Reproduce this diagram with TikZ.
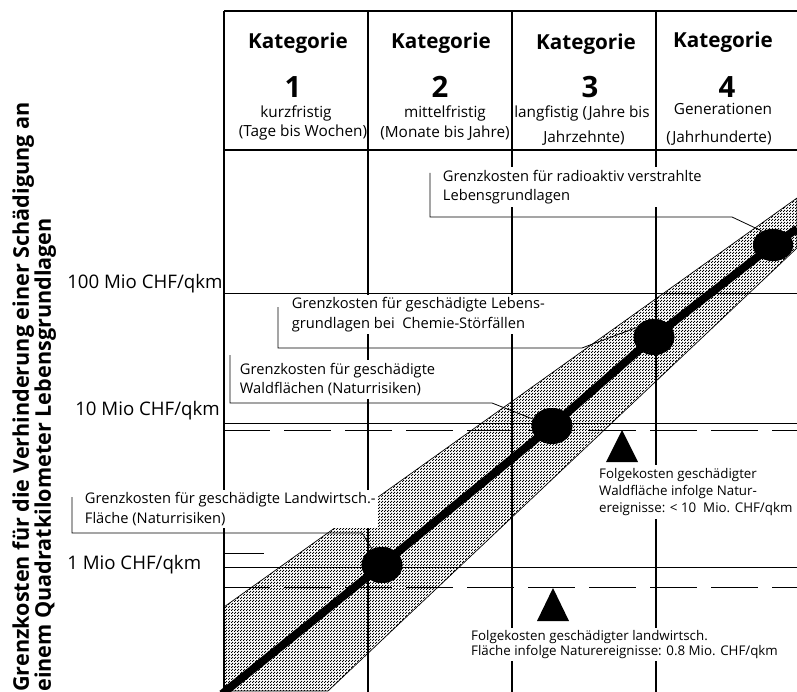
\documentclass[tikz,border=0pt]{standalone}
\usepackage{fontspec}
\setmainfont{Open Sans}
\usetikzlibrary{shapes.geometric,patterns}

% fine checkerboard stipple used for the cost band
\pgfdeclarepatternformonly{stipple}{\pgfqpoint{0pt}{0pt}}{\pgfqpoint{2.25pt}{2.25pt}}{\pgfqpoint{2.25pt}{2.25pt}}{%
  \pgfpathrectangle{\pgfqpoint{0pt}{0pt}}{\pgfqpoint{1pt}{1pt}}%
  \pgfpathrectangle{\pgfqpoint{1.125pt}{1.125pt}}{\pgfqpoint{1pt}{1pt}}%
  \pgfusepath{fill}}

\begin{document}
\begin{tikzpicture}[x=0.75pt,y=-0.75pt,
  gridv/.style={line width=0.9pt},
  gridh/.style={line width=0.6pt},
  dashline/.style={line width=0.6pt,dash pattern=on 35.25pt off 10.5pt},
  band/.style={draw,line width=0.5pt,preaction={fill=white},pattern=stipple},
  dot/.style={ellipse,fill=black,inner sep=0pt,minimum width=30.5pt,minimum height=27pt},
  mainline/.style={line width=6pt},
  leader/.style={line width=0.6pt},
  callout/.style={fill=white,align=left,anchor=west,inner sep=2pt,
    font=\fontsize{11}{14.5}\selectfont},
  note/.style={fill=white,align=left,anchor=west,inner sep=2pt},
  cathead/.style={font=\fontsize{15.5}{18}\selectfont\bfseries,inner sep=0pt},
  catnum/.style={font=\fontsize{22}{24}\selectfont\bfseries,inner sep=0pt},
  catsub/.style={font=\fontsize{11.5}{13}\selectfont,inner sep=0pt},
  ticklab/.style={font=\fontsize{14}{16}\selectfont,anchor=west,inner sep=0pt},
]
\useasboundingbox (0,0) rectangle (797,692);

% uncertainty band
\path[band] (224,607) -- (797,198) -- (797,248) -- (328,691) -- (224,691) -- cycle;

% frame of the category table
\draw[gridh,line width=1pt] (224,11) -- (797,11);
\draw[gridh,line width=1pt] (224,150) -- (797,150);
\foreach \xc in {224,368,512,656}
  \draw[gridv] (\xc,11) -- (\xc,692);

% cost levels
\draw[gridh] (224,293) -- (797,293);
\draw[gridh] (224,423) -- (797,423);
\draw[dashline] (223,430) -- (797,430);
\draw[gridh] (224,553) -- (264,553);
\draw[gridh] (224,567) -- (797,567);
\draw[dashline] (223,587) -- (797,587);

% category headers
\node[cathead] (k1) at (298,43) {Kategorie};
\node[cathead] (k2) at (441,43) {Kategorie};
\node[cathead] (k3) at (586,44) {Kategorie};
\node[cathead] (k4) at (723,42) {Kategorie};
\node[catnum] (n1) at (293,87) {1};
\node[catnum] (n2) at (440,87) {2};
\node[catnum] (n3) at (590,87) {3};
\node[catnum] (n4) at (727,87) {4};
\node[catsub] (s1a) at (296,113) {kurzfristig};
\node[catsub] (s1b) at (303,133) {(Tage bis Wochen)};
\node[catsub] (s2a) at (445,113) {mittelfristig};
\node[catsub] (s2b) at (445,133) {(Monate bis Jahre)};
\node[catsub] (s3a) at (582,113) {langfistig (Jahre bis};
\node[catsub] (s3b) at (584,138) {Jahrzehnte)};
\node[catsub] (s4a) at (723,109) {Generationen};
\node[catsub] (s4b) at (719,138) {(Jahrhunderte)};

% axis title and cost levels
\node[rotate=90,anchor=north west,align=left,inner sep=0pt,
  font=\fontsize{16.2}{16.5}\selectfont\bfseries] (ytitle) at (12,692)
  {Grenzkosten für die Verhinderung einer Schädigung an\\einem Quadratkilometer Lebensgrundlagen};
\node[ticklab] (t100) at (67,284) {100 Mio CHF/qkm};
\node[ticklab] (t10) at (75,411) {10 Mio CHF/qkm};
\node[ticklab] (t1) at (67,565) {1 Mio CHF/qkm};

% callouts
\node[callout] (lr) at (440,187) {Grenzkosten für radioaktiv verstrahlte\\Lebensgrundlagen};
\node[callout] (lc) at (289,314.5) {Grenzkosten für geschädigte Lebens-\\grundlagen bei\ \ Chemie-Störfällen};
\node[callout] (lw) at (237,379.5) {Grenzkosten für geschädigte\\Waldflächen (Naturrisiken)};
\node[callout] (ll) at (82,509) {Grenzkosten für geschädigte Landwirtsch.-\\Fläche (Naturrisiken)};

% marginal-cost points on the main line
\coordinate (mstart) at (222,694);
\node[dot] (c1) at (382,565) {};
\node[dot] (c2) at (552,426) {};
\node[dot] (c3) at (654,337) {};
\node[dot,minimum width=30pt,minimum height=24pt] (c4) at (773,245) {};
\coordinate (mend) at (797,229);

% leader lines
\coordinate (rt) at (430,173); \coordinate (rb) at (430,217); \coordinate (re) at (732,217);
\coordinate (ct) at (278,307); \coordinate (cb) at (278,348); \coordinate (ce) at (582,348);
\coordinate (wt) at (230,355); \coordinate (wb) at (230,403); \coordinate (we) at (492,403);
\coordinate (lt) at (72,497);  \coordinate (lb) at (72,533);  \coordinate (le) at (362,533);
\draw[leader] (rt) -- (rb) -- (re) -- (c4.128);
\draw[leader] (ct) -- (cb) -- (ce) -- (c3.152);
\draw[leader] (wt) -- (wb) -- (we) -- (c2.160);
\draw[leader] (lt) -- (lb) -- (le) -- (c1.122);

\draw[mainline] (mstart) -- (c1.center) -- (c2.center) -- (c3.center) -- (c4.center) -- (mend);
\node[dot] at (c1) {};
\node[dot] at (c2) {};
\node[dot] at (c3) {};
\node[dot,minimum width=30pt,minimum height=24pt] at (c4) {};

% consequential costs
\fill (622,430) -- (638,462) -- (606,462) -- cycle;
\fill (553,588) -- (569,621) -- (537,621) -- cycle;
\node[note,font=\fontsize{10}{13}\selectfont] (fw) at (596.3,492)
  {Folgekosten geschädigter\\Waldfläche infolge Natur-\\ereignisse: < 10\ \ Mio. CHF/qkm};
\node[note,font=\fontsize{10}{11.3}\selectfont] (fl) at (468.3,644.5)
  {Folgekosten geschädigter landwirtsch.\\Fläche infolge Naturereignisse: 0.8 Mio. CHF/qkm};
\end{tikzpicture}
\end{document}
